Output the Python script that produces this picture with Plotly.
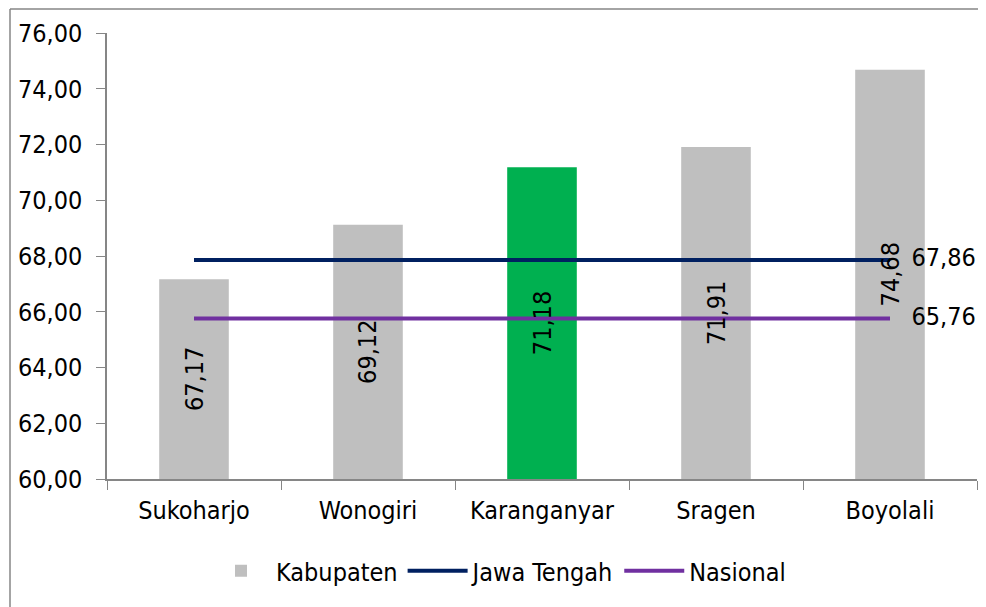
import plotly.graph_objects as go

KABUPATEN = ["Sukoharjo", "Wonogiri", "Karanganyar", "Sragen", "Boyolali"]
NILAI = [67.17, 69.12, 71.18, 71.91, 74.68]
JAWA_TENGAH = [67.86, 67.86, 67.86, 67.86, 67.86]
NASIONAL = [65.76, 65.76, 65.76, 65.76, 65.76]
Y_TICKS = [60, 62, 64, 66, 68, 70, 72, 74, 76]
Y_MIN, Y_MAX = 60, 76

FONT = "DejaVu Sans Condensed, DejaVu Sans, sans-serif"
FS = 25
GREY = "#BFBFBF"
GREEN = "#00B050"
NAVY = "#002060"
PURPLE = "#7030A0"
AXIS = "#868686"

# the page body adds an 8px margin, so the figure is drawn 8px smaller
W, H = 978, 599
L, R, T, B = 99, 9, 25, 128
PW, PH = W - L - R, H - T - B

bar_colors = [GREEN if k == "Karanganyar" else GREY for k in KABUPATEN]


def fmt(v):
    return f"{v:.2f}".replace(".", ",")


def last_label(vals):
    # only the last point of a reference line gets a value label
    return [""] * (len(vals) - 1) + ["   " + fmt(vals[-1])]


fig = go.Figure()
fig.add_trace(go.Bar(
    x=KABUPATEN, y=NILAI, name="Kabupaten",
    marker=dict(color=bar_colors, line=dict(width=0)),
    width=0.4, hoverinfo="skip",
))
fig.add_trace(go.Scatter(
    x=KABUPATEN, y=JAWA_TENGAH, name="Jawa Tengah", mode="lines+text",
    line=dict(color=NAVY, width=4),
    text=last_label(JAWA_TENGAH), textposition="middle right",
    textfont=dict(family=FONT, size=FS, color="black"),
    cliponaxis=False,
))
fig.add_trace(go.Scatter(
    x=KABUPATEN, y=NASIONAL, name="Nasional", mode="lines+text",
    line=dict(color=PURPLE, width=4),
    text=last_label(NASIONAL), textposition="middle right",
    textfont=dict(family=FONT, size=FS, color="black"),
    cliponaxis=False,
))

# value labels, rotated, centred inside each bar
for k, v in zip(KABUPATEN, NILAI):
    fig.add_annotation(
        x=k, y=(Y_MIN + v) / 2, text=fmt(v), textangle=-90, showarrow=False,
        font=dict(family=FONT, size=FS, color="black"),
    )

# chart-area frame: only its top and left edges fall inside the picture
frame_x = -(L - 2) / PW
frame_y = 1 + (T - 1) / PH
frame = dict(type="line", xref="paper", yref="paper", line=dict(color=AXIS, width=1.5))

fig.update_layout(
    width=W, height=H,
    separators=",.",
    paper_bgcolor="white", plot_bgcolor="white",
    font=dict(family=FONT, size=FS, color="black"),
    margin=dict(l=L, r=R, t=T, b=B, autoexpand=False),
    showlegend=True,
    legend=dict(orientation="h", x=0.45, xanchor="center", y=-92 / PH, yanchor="middle",
                font=dict(family=FONT, size=FS), traceorder="normal",
                itemwidth=60),
    shapes=[
        dict(frame, x0=frame_x, x1=1 + R / PW, y0=frame_y, y1=frame_y),
        dict(frame, x0=frame_x, x1=frame_x, y0=-B / PH, y1=frame_y),
    ],
)
fig.update_xaxes(
    showline=True, linecolor=AXIS, linewidth=1.5,
    ticks="outside", ticklen=9, tickcolor=AXIS, tickson="boundaries",
    ticklabelstandoff=8, showgrid=False, automargin=False,
)
fig.update_yaxes(
    range=[Y_MIN, Y_MAX], tickvals=Y_TICKS, tickformat=".2f",
    showline=True, linecolor=AXIS, linewidth=1.5,
    ticks="outside", ticklen=9, tickcolor=AXIS,
    ticklabelstandoff=9, showgrid=False, zeroline=False, automargin=False,
)

fig.write_html("out.html")
